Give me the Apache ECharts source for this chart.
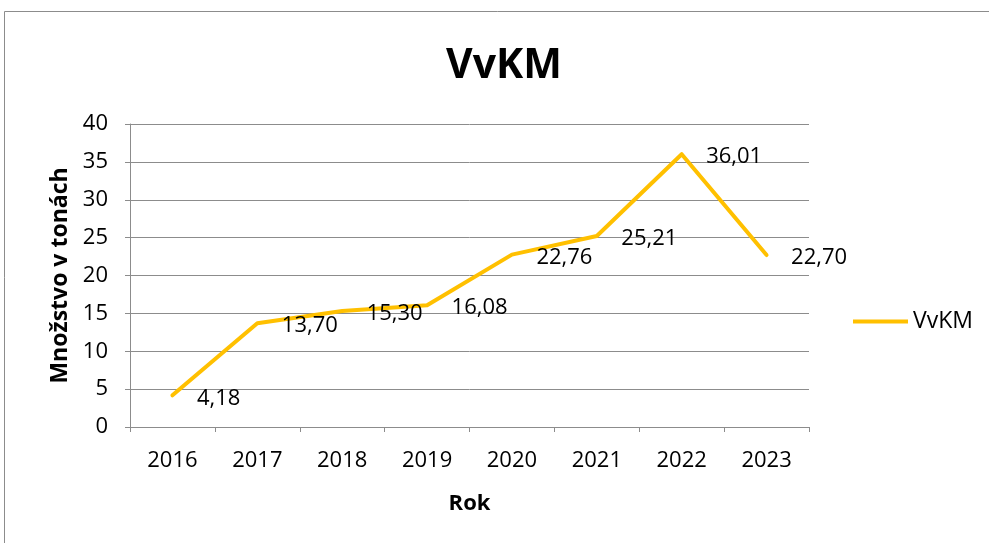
<!DOCTYPE html>
<html><head><meta charset="utf-8">
<script src="https://cdn.jsdelivr.net/npm/echarts@6/dist/echarts.min.js"></script>
<style>html,body{margin:0;padding:0;background:#fff}#c{width:989px;height:543px}</style>
</head><body><div id="c"></div>
<script>
const categories = ['2016','2017','2018','2019','2020','2021','2022','2023'];
const values = [4.18, 13.70, 15.30, 16.08, 22.76, 25.21, 36.01, 22.70];
const yTicks = [0,5,10,15,20,25,30,35,40];
const seriesName = 'VvKM';
const FONT = '"Open Sans", "Liberation Sans", sans-serif';
const chart = echarts.init(document.getElementById('c'));
chart.setOption({
  animation: false,
  backgroundColor: '#fff',
  graphic: [{type:'rect', shape:{x:4.5,y:11.5,width:1000,height:600}, style:{fill:'none', stroke:'#8c8c8c', lineWidth:1}}],
  title: {text: 'VvKM', left: 499, top: 41, textAlign: 'center',
    textStyle: {fontFamily: FONT, fontSize: 41, fontWeight: 'bold', color: '#000'}},
  legend: {data:[seriesName], left: 848, top: 305, itemWidth: 55, itemHeight: 14, itemGap: 4,
    icon: 'path://M0,5 L55,5 L55,9 L0,9 Z',
    itemStyle: {color: '#FFC000', opacity: 1},
    textStyle: {fontFamily: FONT, fontSize: 23, color: '#000'}},
  grid: {left: 130, right: 180, top: 124, bottom: 116},
  xAxis: {type:'category', data: categories, boundaryGap: true,
    name: 'Rok', nameLocation: 'middle', nameGap: 66,
    nameTextStyle: {fontFamily: FONT, fontSize: 22, fontWeight: 'bold', color: '#000'},
    axisLine: {lineStyle: {color: '#8c8c8c', width: 1}},
    axisTick: {show: true, inside: false, length: 5, alignWithLabel: false, lineStyle: {color: '#8c8c8c'}},
    axisLabel: {fontFamily: FONT, fontSize: 22, color: '#000', margin: 23}},
  yAxis: {type:'value', min: yTicks[0], max: yTicks[yTicks.length-1], interval: 5,
    name: 'Množstvo v tonách', nameLocation: 'middle', nameGap: 58, nameRotate: 90,
    nameTextStyle: {fontFamily: FONT, fontSize: 23, fontWeight: 'bold', color: '#000'},
    axisLine: {show: true, lineStyle: {color: '#8c8c8c', width: 1}},
    axisTick: {show: true, inside: false, length: 5, lineStyle: {color: '#8c8c8c'}},
    splitLine: {show: true, lineStyle: {color: '#8c8c8c', width: 1}},
    axisLabel: {fontFamily: FONT, fontSize: 22, color: '#000', margin: 22}},
  series: [{name: seriesName, type: 'line', data: values, showSymbol: true, symbol: 'circle', symbolSize: 1,
    lineStyle: {color: '#FFC000', width: 4, cap: 'round', join: 'round'},
    itemStyle: {color: '#FFC000', opacity: 0},
    label: {show: true, position: 'right', distance: 24, offset: [0, 3], opacity: 1,
      fontFamily: FONT, fontSize: 22, color: '#000',
      formatter: p => p.value.toFixed(2).replace('.', ',')}
  }]
});
</script></body></html>
